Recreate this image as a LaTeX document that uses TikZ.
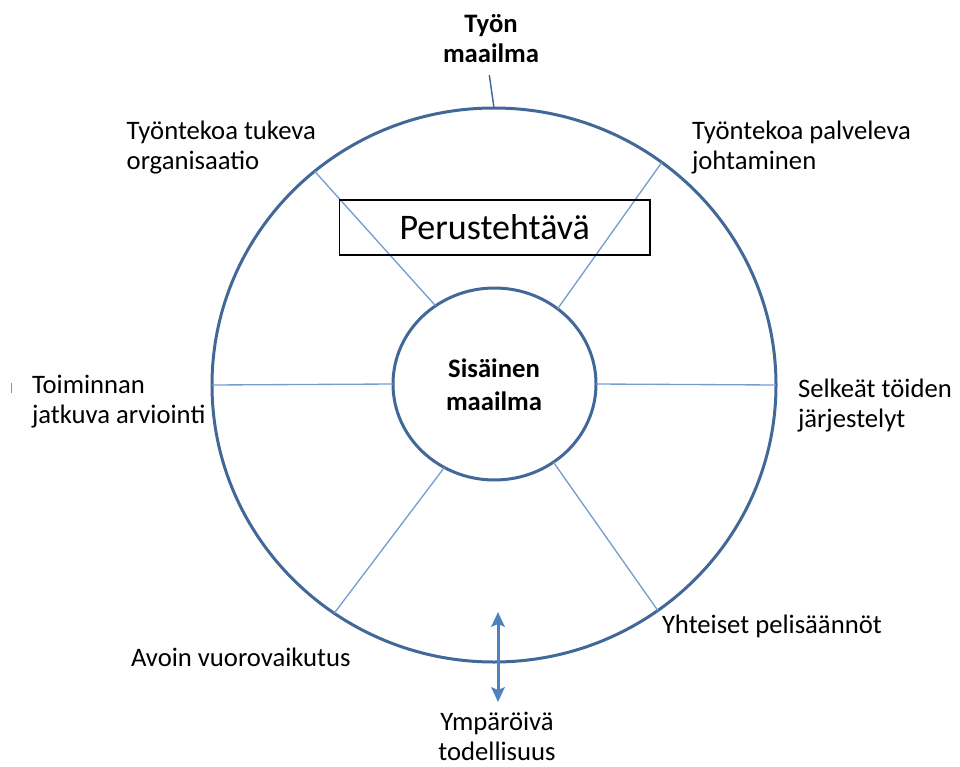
\documentclass[tikz,border=0pt]{standalone}
\usepackage{fontspec}
\setmainfont{Carlito}
\usetikzlibrary{shapes.geometric,arrows.meta}

\definecolor{ringblue}{RGB}{66,104,152}
\definecolor{spokeblue}{RGB}{118,156,210}
\definecolor{arrowblue}{RGB}{79,129,189}

\tikzset{
  ring/.style={ellipse, draw=ringblue, line width=2.25pt, inner sep=0pt, outer sep=0pt},
  spoke/.style={draw=spokeblue, line width=1pt},
  lbl/.style={inner sep=0pt, outer sep=0pt, font=\fontsize{20pt}{22.5pt}\selectfont},
  lblleft/.style={lbl, align=left},
  lblmid/.style={lbl, align=center},
  taskbox/.style={draw=black, line width=1.1pt, minimum width=233pt, minimum height=41.25pt,
    inner sep=0pt, font=\fontsize{27pt}{30pt}\selectfont},
  twoway/.style={draw=arrowblue, line width=2.25pt,
    {Stealth[length=11pt,width=10pt,inset=2pt]}-{Stealth[length=11pt,width=10pt,inset=2pt]}}
}

\begin{document}
\begin{tikzpicture}[x=0.75pt, y=-0.75pt]
  \useasboundingbox (0,0) rectangle (960,767);

  % the two worlds
  \node[ring, minimum width=423pt, minimum height=415.5pt] (outer) at (494,385) {};
  \node[ring, minimum width=152.25pt, minimum height=144pt, fill=white] (inner) at (494.5,384)
    {};
  \node[lblmid, font=\bfseries\fontsize{20pt}{24.75pt}\selectfont] (innertext) at (494,385)
    {Sisäinen\\maailma};

  % spokes between the inner and the outer ring
  \draw[spoke] (inner.180) -- (outer.180);
  \draw[spoke] (inner.0) -- (outer.0);
  \draw[spoke] (inner.127.8) -- (outer.130.7);
  \draw[spoke] (inner.50.8) -- (outer.53.9);
  \draw[spoke] (inner.-121.5) -- (outer.-125.5);
  \draw[spoke] (inner.-53.1) -- (outer.-54);

  % core task box
  \node[taskbox, fill=none] (task) at (494.7,227.5) {Perustehtävä};

  % world of work, on top
  \node[lblmid, font=\bfseries\fontsize{20pt}{22.5pt}\selectfont] (work) at (491,38.5)
    {Työn\\maailma};
  \coordinate (worktick) at (489.3,75);
  \draw[draw=ringblue, line width=1.1pt] (worktick) -- (outer.north);

  % surrounding reality, below
  \coordinate (arrtop) at (498,612);
  \coordinate (arrbot) at (498,702);
  \draw[twoway] (arrtop) -- (arrbot);
  \node[lblmid] (reality) at (497,736) {Ympäröivä\\todellisuus};

  % factors around the ring
  \node[lblleft, anchor=west] (support) at (126.7,147.5) {Työntekoa tukeva\\organisaatio};
  \node[lblleft, anchor=west] (lead) at (692,147.5) {Työntekoa palveleva\\johtaminen};
  \node[lblleft, anchor=west] (eval) at (32,401.5) {Toiminnan\\jatkuva arviointi};
  \node[lblleft, anchor=west] (arrange) at (798,405.5) {Selkeät töiden\\järjestelyt};
  \node[lbl, anchor=base west] (rules) at (662,633) {Yhteiset pelisäännöt};
  \node[lbl, anchor=base west] (interact) at (131,666) {Avoin vuorovaikutus};

  % stray mark at the left edge
  \draw[draw=ringblue!70, line width=1.1pt] (11.7,383) -- (11.7,393);
\end{tikzpicture}
\end{document}
